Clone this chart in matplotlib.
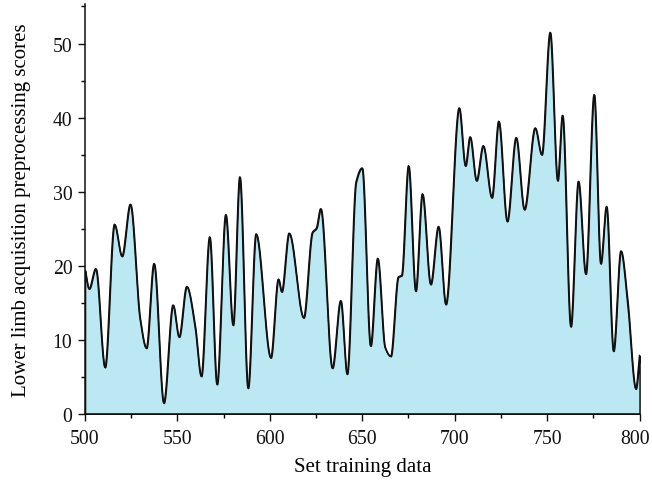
import numpy as np
import matplotlib
matplotlib.use("Agg")
import matplotlib.pyplot as plt
from matplotlib.ticker import MultipleLocator
from matplotlib.transforms import ScaledTranslation

# Turning points of the score curve (sample index, score)
sample_idx = [500, 502.2, 505.8, 510.8, 515.9, 520.0, 524.5, 529.8, 533.2, 537.3,
              542.6, 547.6, 550.9, 555.0, 559.5, 562.9, 567.4, 571.4, 576.1, 580.1,
              583.7, 588.2, 592.5, 600.5, 604.6, 606.4, 610.4, 618.3, 623.0, 625.2,
              627.5, 633.8, 638.3, 641.8, 646.6, 649.9, 654.5, 658.3, 662.3, 665.4,
              669.5, 671.3, 675.0, 678.9, 682.5, 687.0, 691.2, 695.2, 702.4, 705.8,
              708.3, 711.8, 715.4, 720.1, 723.8, 728.4, 733.2, 737.7, 743.5, 747.1,
              751.6, 755.7, 758.3, 762.8, 766.9, 770.9, 775.4, 779.0, 782.1, 785.9,
              789.9, 793.4, 798.0, 800.0]
scores = [19.4, 16.9, 19.6, 6.3, 25.6, 21.3, 28.3, 12.8, 8.9, 20.3,
          1.5, 14.7, 10.4, 17.2, 11.9, 5.1, 23.9, 4.0, 26.9, 12.0,
          32.0, 3.5, 24.3, 7.6, 18.2, 16.5, 24.4, 13.0, 24.5, 25.1,
          27.7, 6.2, 15.3, 5.4, 31.3, 33.2, 9.2, 21.0, 9.0, 7.8,
          18.5, 18.7, 33.5, 16.6, 29.7, 17.5, 25.3, 14.8, 41.3, 33.5,
          37.4, 31.5, 36.2, 29.2, 39.5, 26.0, 37.3, 27.6, 38.6, 35.0,
          51.5, 31.5, 40.3, 11.8, 31.4, 18.9, 43.1, 20.3, 28.0, 8.5,
          22.0, 15.5, 3.4, 7.9]

x_ticks = [500, 550, 600, 650, 700, 750, 800]
y_ticks = [0, 10, 20, 30, 40, 50]


def pchip(xk, yk, xs):
    """Shape-preserving piecewise cubic Hermite curve through (xk, yk)."""
    xk = np.asarray(xk, float)
    yk = np.asarray(yk, float)
    h = np.diff(xk)
    d = np.diff(yk) / h
    n = len(xk)
    m = np.zeros(n)
    for i in range(1, n - 1):
        if d[i - 1] * d[i] > 0:
            w1 = 2 * h[i] + h[i - 1]
            w2 = h[i] + 2 * h[i - 1]
            m[i] = (w1 + w2) / (w1 / d[i - 1] + w2 / d[i])
    m[0] = d[0]
    m[-1] = d[-1]
    idx = np.clip(np.searchsorted(xk, xs) - 1, 0, n - 2)
    t = (xs - xk[idx]) / h[idx]
    h00 = 2 * t**3 - 3 * t**2 + 1
    h10 = t**3 - 2 * t**2 + t
    h01 = -2 * t**3 + 3 * t**2
    h11 = t**3 - t**2
    return (h00 * yk[idx] + h10 * h[idx] * m[idx]
            + h01 * yk[idx + 1] + h11 * h[idx] * m[idx + 1])


xs = np.linspace(sample_idx[0], sample_idx[-1], 3000)
ys = pchip(sample_idx, scores, xs)

plt.rcParams['font.family'] = ['Liberation Serif', 'DejaVu Serif']

fig = plt.figure(figsize=(6.52, 4.81), dpi=100)
ax = fig.add_axes([0.1304, 0.1372, 0.8505, 0.8534])

ax.fill_between(xs, 0, ys, facecolor='#bce8f3', edgecolor='#111111', linewidth=1.1)
ax.plot(xs, ys, color='#111111', linewidth=1.1)

ax.set_xlim(500, 800)
ax.set_ylim(0, 55.4)
ax.set_xticks(x_ticks)
ax.set_yticks(y_ticks)
ax.xaxis.set_minor_locator(MultipleLocator(25))
ax.yaxis.set_minor_locator(MultipleLocator(5))
ax.tick_params(which='major', direction='out', length=5, width=1, labelsize=14.2,
               colors='#111111')
ax.tick_params(axis='x', which='major', pad=6)
ax.tick_params(axis='y', which='major', pad=4)
ax.tick_params(which='minor', direction='out', length=3, width=1)

# nudge the last x tick label so it stays inside the canvas
last = ax.get_xticklabels()[-1]
last.set_transform(last.get_transform() + ScaledTranslation(-3 / 72, 0, fig.dpi_scale_trans))

for side in ('top', 'right'):
    ax.spines[side].set_visible(False)
for side in ('left', 'bottom'):
    ax.spines[side].set_linewidth(1.1)
    ax.spines[side].set_color('#111111')

ax.set_xlabel('Set training data', fontsize=15, labelpad=6)
ax.set_ylabel('Lower limb acquisition preprocessing scores', fontsize=15, labelpad=16)

fig.savefig('out.png', dpi=100)
